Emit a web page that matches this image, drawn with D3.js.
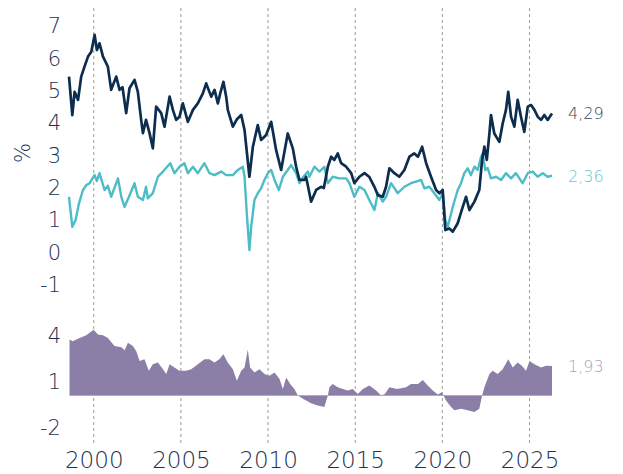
<!DOCTYPE html>
<html>
<head>
<meta charset="utf-8">
<script src="https://cdn.jsdelivr.net/npm/d3@7"></script>
<style>
  html, body { margin: 0; padding: 0; background: #fff; }
  svg text { font-family: "DejaVu Sans", sans-serif; font-weight: 200; }
</style>
</head>
<body>
<svg id="chart" width="623" height="474"></svg>
<script>
// nominal yield (dark line), decimal years
var nominalYears = [1998.58,1998.77,1998.9,1999.1,1999.28,1999.47,1999.67,1999.86,2000.05,2000.18,2000.33,2000.53,2000.81,2001.0,2001.29,2001.48,2001.65,2001.86,2002.05,2002.34,2002.53,2002.72,2002.82,2003.0,2003.2,2003.39,2003.58,2003.87,2004.06,2004.35,2004.54,2004.73,2004.92,2005.11,2005.4,2005.69,2005.97,2006.26,2006.45,2006.74,2006.93,2007.12,2007.28,2007.44,2007.6,2007.69,2007.98,2008.2,2008.46,2008.65,2008.93,2009.13,2009.41,2009.6,2009.89,2010.18,2010.46,2010.75,2011.13,2011.42,2011.61,2011.8,2012.09,2012.18,2012.47,2012.76,2013.04,2013.2,2013.43,2013.62,2013.8,2014.0,2014.19,2014.48,2014.77,2014.95,2015.24,2015.53,2015.8,2016.1,2016.3,2016.58,2016.77,2016.96,2017.25,2017.53,2017.82,2018.11,2018.39,2018.6,2018.84,2019.07,2019.35,2019.64,2019.83,2020.02,2020.17,2020.4,2020.6,2020.88,2021.17,2021.36,2021.55,2021.84,2022.12,2022.28,2022.41,2022.55,2022.7,2022.79,2022.98,2023.27,2023.46,2023.65,2023.78,2023.94,2024.13,2024.32,2024.51,2024.7,2024.9,2025.09,2025.28,2025.47,2025.66,2025.85,2026.04,2026.29];
var nominalValues = [5.43,4.24,4.96,4.71,5.43,5.74,6.05,6.2,6.72,6.25,6.46,6.05,5.74,5.02,5.43,5.02,5.1,4.3,5.07,5.33,4.96,4.09,3.68,4.09,3.68,3.21,4.5,4.3,3.88,4.81,4.4,4.09,4.19,4.6,4.03,4.4,4.6,4.91,5.22,4.81,5.02,4.6,4.96,5.27,4.8,4.4,3.88,4.1,4.24,3.78,2.33,3.26,3.93,3.47,3.62,4.03,3.16,2.54,3.67,3.21,2.64,2.23,2.23,2.33,1.56,1.92,2.02,1.98,2.64,2.95,2.85,3.05,2.75,2.64,2.44,2.13,2.33,2.44,2.33,2.02,1.76,1.71,2.02,2.59,2.44,2.33,2.54,2.95,3.05,2.95,3.26,2.75,2.33,1.92,1.82,1.92,0.68,0.73,0.63,0.89,1.4,1.71,1.3,1.56,1.92,2.85,3.26,2.85,3.67,4.24,3.67,3.41,3.98,4.4,4.96,4.19,3.88,4.71,4.19,3.72,4.5,4.55,4.4,4.19,4.09,4.24,4.09,4.29];

// real yield (teal line)
var realYears = [1998.58,1998.77,1998.96,1999.15,1999.38,1999.57,1999.76,2000.05,2000.18,2000.33,2000.62,2000.81,2001.0,2001.39,2001.58,2001.77,2002.05,2002.34,2002.53,2002.82,2003.0,2003.1,2003.39,2003.68,2003.97,2004.39,2004.63,2004.92,2005.2,2005.4,2005.69,2005.97,2006.35,2006.64,2006.93,2007.31,2007.6,2007.98,2008.27,2008.55,2008.65,2008.78,2008.93,2009.03,2009.22,2009.41,2009.6,2009.79,2009.99,2010.18,2010.37,2010.62,2010.85,2011.13,2011.32,2011.61,2011.8,2012.03,2012.28,2012.37,2012.66,2012.95,2013.23,2013.43,2013.71,2014.09,2014.48,2014.67,2014.95,2015.24,2015.53,2015.81,2016.1,2016.3,2016.58,2016.77,2017.06,2017.44,2017.82,2018.2,2018.49,2018.78,2018.97,2019.25,2019.54,2019.83,2020.02,2020.17,2020.31,2020.6,2020.88,2021.07,2021.26,2021.45,2021.64,2021.84,2022.03,2022.22,2022.31,2022.46,2022.6,2022.79,2023.08,2023.37,2023.65,2023.94,2024.22,2024.6,2024.9,2025.18,2025.47,2025.76,2026.04,2026.29];
var realValues = [1.71,0.78,0.99,1.5,1.92,2.07,2.13,2.38,2.2,2.44,1.92,2.05,1.71,2.28,1.71,1.4,1.75,2.13,1.71,1.61,2.02,1.66,1.82,2.33,2.49,2.75,2.44,2.64,2.75,2.44,2.64,2.44,2.75,2.44,2.38,2.49,2.38,2.38,2.54,2.64,2.33,1.2,0.06,0.78,1.61,1.82,1.97,2.23,2.44,2.54,2.23,1.92,2.33,2.54,2.69,2.44,2.13,2.33,2.49,2.33,2.64,2.49,2.64,2.13,2.33,2.28,2.28,2.13,1.71,2.02,1.92,1.61,1.3,1.82,1.56,1.71,2.13,1.82,2.02,2.13,2.18,2.23,1.97,2.02,1.82,1.61,1.82,0.99,0.78,1.4,1.92,2.13,2.44,2.59,2.38,2.64,2.54,2.95,3.05,2.54,2.6,2.28,2.33,2.23,2.44,2.28,2.44,2.13,2.44,2.49,2.33,2.44,2.33,2.36];

// spread (purple area, bottom panel)
var spreadYears = [1998.61,1998.8,1999.19,1999.57,1999.99,2000.24,2000.53,2000.81,2001.19,2001.58,2001.77,2001.96,2002.25,2002.44,2002.63,2002.91,2003.16,2003.39,2003.68,2003.97,2004.16,2004.35,2004.63,2004.92,2005.3,2005.59,2005.97,2006.35,2006.64,2006.93,2007.2,2007.44,2007.69,2007.98,2008.21,2008.46,2008.65,2008.84,2008.97,2009.22,2009.51,2009.79,2010.08,2010.37,2010.66,2010.85,2011.04,2011.27,2011.51,2011.71,2012.0,2012.47,2012.85,2013.23,2013.43,2013.52,2013.71,2014.0,2014.29,2014.57,2014.86,2015.15,2015.44,2015.81,2016.2,2016.49,2016.7,2016.96,2017.4,2017.92,2018.2,2018.6,2018.88,2019.16,2019.45,2019.74,2019.97,2020.21,2020.5,2020.69,2021.07,2021.45,2021.84,2022.12,2022.26,2022.41,2022.7,2022.89,2023.17,2023.46,2023.78,2024.04,2024.32,2024.56,2024.8,2025.0,2025.28,2025.66,2025.95,2026.29];
var spreadValues = [3.66,3.55,3.76,3.94,4.3,3.98,3.94,3.76,3.23,3.16,2.95,3.44,3.23,2.9,2.26,2.37,1.61,2.04,2.15,1.72,1.4,2.04,1.83,1.61,1.61,1.72,2.04,2.37,2.37,2.15,2.37,2.69,2.15,1.72,0.97,1.61,1.83,3.01,1.83,1.5,1.72,1.4,1.29,1.5,1.08,0.43,1.18,0.75,0.43,0,-0.22,-0.5,-0.65,-0.75,0,0.54,0.75,0.54,0.43,0.32,0.43,0.1,0.43,0.65,0.32,0,0.1,0.54,0.43,0.54,0.75,0.75,1.01,0.65,0.32,0.06,0.22,-0.32,-0.75,-0.97,-0.86,-0.97,-1.08,-0.86,-0.1,0.54,1.4,1.61,1.4,1.72,2.37,1.83,2.15,1.94,1.61,2.26,2.04,1.83,1.94,1.93];

var xTickYears = [2000, 2005, 2010, 2015, 2020, 2025];
var topTicks = [-1, 0, 1, 2, 3, 4, 5, 6, 7];
var bottomTicks = [-2, 1, 4];
var endLabels = ["4,29", "2,36", "1,93"];

var navy = "#0c2d4d", teal = "#4cbdc6", purple = "#8b7fa8";
var textColor = "#1d3150";

var svg = d3.select("#chart");

var x = d3.scaleLinear().domain([1998.58, 2026.29]).range([69, 552]);
var yTop = d3.scaleLinear().domain([0, 7]).range([252, 25.9]);
var yBottom = d3.scaleLinear().domain([0, 4]).range([395.5, 334.3]);

// vertical dashed gridlines
svg.append("g")
  .selectAll("line")
  .data(xTickYears)
  .enter().append("line")
    .attr("x1", function(d) { return x(d); })
    .attr("x2", function(d) { return x(d); })
    .attr("y1", 8)
    .attr("y2", 443)
    .attr("stroke", "#9a9a9a")
    .attr("stroke-width", 1)
    .attr("stroke-dasharray", "3,3");

// bottom panel area
var spread = spreadYears.map(function(t, i) { return [t, spreadValues[i]]; });
var area = d3.area()
  .x(function(d) { return x(d[0]); })
  .y0(yBottom(0))
  .y1(function(d) { return yBottom(d[1]); });

svg.append("path")
  .datum(spread)
  .attr("d", area)
  .attr("fill", purple);

svg.append("line")
  .attr("x1", x(spreadYears[0]))
  .attr("x2", x(spreadYears[spreadYears.length - 1]))
  .attr("y1", yBottom(0))
  .attr("y2", yBottom(0))
  .attr("stroke", "#b2a8c8")
  .attr("stroke-width", 1);

// top panel lines
var line = d3.line()
  .x(function(d) { return x(d[0]); })
  .y(function(d) { return yTop(d[1]); });

var real = realYears.map(function(t, i) { return [t, realValues[i]]; });
var nominal = nominalYears.map(function(t, i) { return [t, nominalValues[i]]; });

svg.append("path")
  .datum(real)
  .attr("d", line)
  .attr("fill", "none")
  .attr("stroke", teal)
  .attr("stroke-width", 2.4)
  .attr("stroke-linejoin", "round");

svg.append("path")
  .datum(nominal)
  .attr("d", line)
  .attr("fill", "none")
  .attr("stroke", navy)
  .attr("stroke-width", 2.7)
  .attr("stroke-linejoin", "round");

// y labels
svg.append("g")
  .selectAll("text")
  .data(topTicks)
  .enter().append("text")
    .attr("x", 61)
    .attr("y", function(d) { return yTop(d); })
    .attr("dy", "0.36em")
    .attr("text-anchor", "end")
    .attr("font-size", 21)
    .attr("fill", textColor)
    .text(function(d) { return d; });

svg.append("g")
  .selectAll("text")
  .data(bottomTicks)
  .enter().append("text")
    .attr("x", 61)
    .attr("y", function(d) { return yBottom(d) + 1.5; })
    .attr("dy", "0.36em")
    .attr("text-anchor", "end")
    .attr("font-size", 21)
    .attr("fill", textColor)
    .text(function(d) { return d; });

// x axis labels
var xAxis = d3.axisBottom(x)
  .tickValues(xTickYears)
  .tickFormat(d3.format("d"))
  .tickSize(0)
  .tickPadding(0);

var gx = svg.append("g")
  .attr("transform", "translate(0,452)")
  .call(xAxis);
gx.select(".domain").remove();
gx.selectAll("text")
  .attr("font-family", "'DejaVu Sans', sans-serif")
  .attr("font-weight", 200)
  .attr("font-size", 23)
  .attr("fill", textColor);

// % title
svg.append("text")
  .attr("transform", "translate(22,153) rotate(-90)")
  .attr("dy", "0.36em")
  .attr("text-anchor", "middle")
  .attr("font-size", 21)
  .attr("fill", textColor)
  .text("%");

// end labels
var lastN = nominalValues[nominalValues.length - 1];
var lastR = realValues[realValues.length - 1];
var lastS = spreadValues[spreadValues.length - 1];
var endData = [
  { text: endLabels[0], y: yTop(lastN), color: "#34465d" },
  { text: endLabels[1], y: yTop(lastR), color: "#6ac8ce" },
  { text: endLabels[2], y: yBottom(lastS), color: "#ab9fc6" }
];
svg.append("g")
  .selectAll("text")
  .data(endData)
  .enter().append("text")
    .attr("x", 568)
    .attr("y", function(d) { return d.y; })
    .attr("dy", "0.36em")
    .attr("font-size", 16)
    .attr("fill", function(d) { return d.color; })
    .text(function(d) { return d.text; });
</script>
</body>
</html>
